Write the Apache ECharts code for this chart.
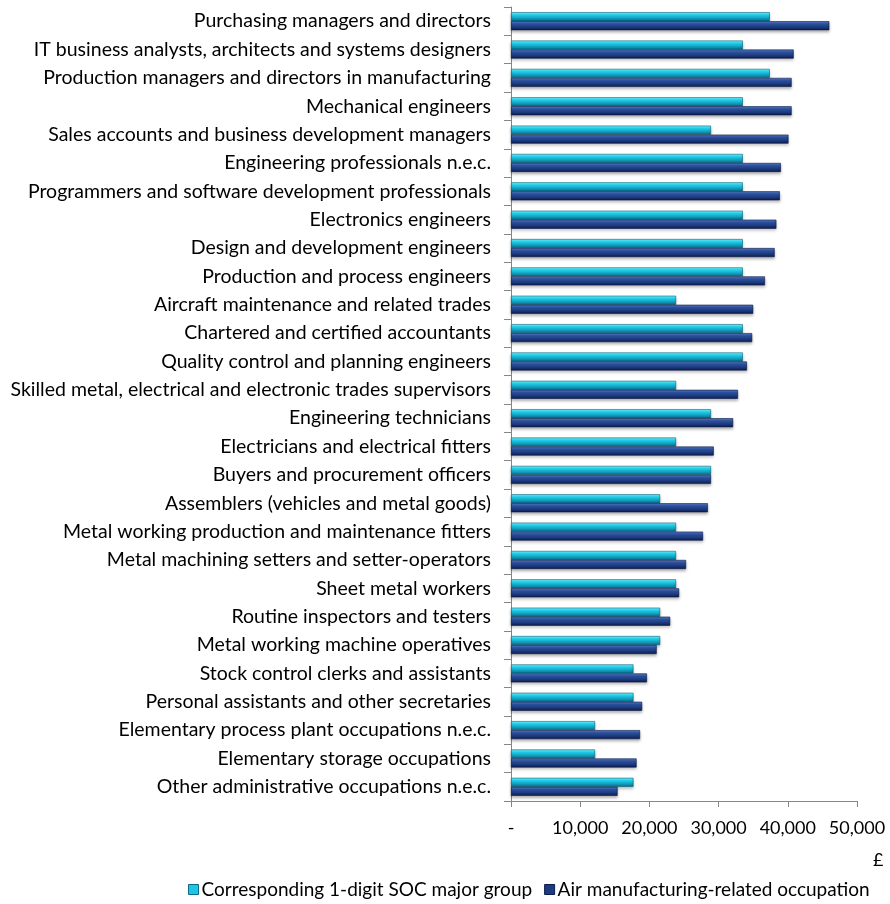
<!DOCTYPE html>
<html>
<head>
<meta charset="utf-8">
<script src="https://cdn.jsdelivr.net/npm/echarts@6/dist/echarts.min.js"></script>
<style>html,body{margin:0;padding:0;background:#fff}#c{width:890px;height:904px}</style>
</head>
<body>
<div id="c"></div>
<script>
const categories = [
  'Purchasing managers and directors',
  'IT business analysts, architects and systems designers',
  'Production managers and directors in manufacturing',
  'Mechanical engineers',
  'Sales accounts and business development managers',
  'Engineering professionals n.e.c.',
  'Programmers and software development professionals',
  'Electronics engineers',
  'Design and development engineers',
  'Production and process engineers',
  'Aircraft maintenance and related trades',
  'Chartered and certified accountants',
  'Quality control and planning engineers',
  'Skilled metal, electrical and electronic trades supervisors',
  'Engineering technicians',
  'Electricians and electrical fitters',
  'Buyers and procurement officers',
  'Assemblers (vehicles and metal goods)',
  'Metal working production and maintenance fitters',
  'Metal machining setters and setter-operators',
  'Sheet metal workers',
  'Routine inspectors and testers',
  'Metal working machine operatives',
  'Stock control clerks and assistants',
  'Personal assistants and other secretaries',
  'Elementary process plant occupations n.e.c.',
  'Elementary storage occupations',
  'Other administrative occupations n.e.c.'
];
const socGroup = [37400, 33500, 37400, 33500, 28900, 33500, 33500, 33500, 33500, 33500,
  23850, 33500, 33500, 23850, 28900, 23850, 28900, 21550, 23850, 23850,
  23850, 21550, 21550, 17700, 17700, 12150, 12150, 17700];
const airMfg = [46000, 40850, 40550, 40550, 40100, 39000, 38850, 38350, 38100, 36700,
  35000, 34850, 34100, 32800, 32100, 29300, 28900, 28450, 27750, 25300,
  24300, 23000, 21050, 19650, 18950, 18650, 18150, 15400];
const seriesNames = ['Corresponding 1-digit SOC major group', 'Air manufacturing-related occupation'];
const xTicks = [0, 10000, 20000, 30000, 40000, 50000];
const unitLabel = '£';

const FONT = 'Lato';
const cyanGrad = new echarts.graphic.LinearGradient(0, 0, 0, 1, [
  {offset: 0, color: '#7af6ff'}, {offset: 0.3, color: '#22d6f2'},
  {offset: 0.6, color: '#14a9c8'}, {offset: 1, color: '#0b6a86'}]);
const navyGrad = new echarts.graphic.LinearGradient(0, 0, 0, 1, [
  {offset: 0, color: '#5a80cc'}, {offset: 0.3, color: '#2e54a3'},
  {offset: 0.65, color: '#1d3b80'}, {offset: 1, color: '#0c1d4c'}]);

const chart = echarts.init(document.getElementById('c'), null, {renderer: 'canvas'});
chart.setOption({
  animation: false,
  backgroundColor: '#fff',
  textStyle: {fontFamily: FONT},
  title: {text: unitLabel, left: 868, top: 846, textStyle: {fontFamily: FONT, fontSize: 18, fontWeight: 'normal', color: '#000'}},
  legend: {
    bottom: 0, left: 183,
    itemWidth: 10, itemHeight: 10, itemGap: 12,
    icon: 'rect',
    textStyle: {fontFamily: FONT, fontSize: 19, color: '#000', padding: [0, 0, 0, -2]},
    data: [
      {name: seriesNames[0], itemStyle: {color: '#1ec6e6', borderColor: '#0b6a86', borderWidth: 1}},
      {name: seriesNames[1], itemStyle: {color: '#1d3b80', borderColor: '#0c1d4c', borderWidth: 1}}
    ]
  },
  grid: {left: 511, right: 33, top: 7, bottom: 103, containLabel: false},
  xAxis: {
    type: 'value', min: 0, max: 50000, interval: 10000,
    axisLine: {show: true, lineStyle: {color: '#868686'}},
    axisTick: {show: true, length: 6, lineStyle: {color: '#868686'}},
    splitLine: {show: false},
    axisLabel: {
      fontFamily: FONT, fontSize: 18, color: '#000', margin: 18,
      formatter: v => v === 0 ? '-' : v.toLocaleString('en-US'),
      customValues: xTicks
    }
  },
  yAxis: {
    type: 'category', inverse: true, data: categories,
    axisLine: {show: true, lineStyle: {color: '#868686'}},
    axisTick: {show: true, length: 7, lineStyle: {color: '#868686'}},
    axisLabel: {fontFamily: FONT, fontSize: 19.5, color: '#000', margin: 20}
  },
  series: [
    {
      name: seriesNames[0], type: 'bar', data: socGroup, barWidth: 9, barGap: '0%',
      itemStyle: {color: cyanGrad, borderColor: '#0a5f78', borderWidth: 0.6,
        shadowColor: 'rgba(0,0,0,0.25)', shadowBlur: 3, shadowOffsetY: 2}
    },
    {
      name: seriesNames[1], type: 'bar', data: airMfg, barWidth: 9, barGap: '0%',
      itemStyle: {color: navyGrad, borderColor: '#081642', borderWidth: 0.6,
        shadowColor: 'rgba(0,0,0,0.3)', shadowBlur: 3, shadowOffsetY: 2}
    }
  ]
});
</script>
</body>
</html>
